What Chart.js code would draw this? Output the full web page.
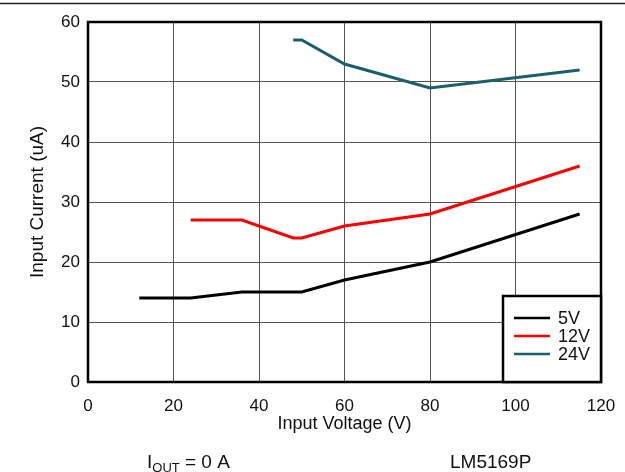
<!DOCTYPE html>
<html>
<head>
<meta charset="utf-8">
<script src="https://cdn.jsdelivr.net/npm/chart.js@4/dist/chart.umd.min.js"></script>
<style>
html,body{margin:0;padding:0;background:#fff;}
#wrap{position:relative;width:625px;height:472px;}
</style>
</head>
<body>
<div id="wrap"><canvas id="c" width="625" height="472"></canvas></div>
<script>
// Data
const seriesLabels = ["5V", "12V", "24V"];
const seriesColors = ["#000000", "#ff0000", "#1a5f6e"];
const vin5  = [12, 24, 36, 50, 60, 80, 115];
const iin5  = [14, 14, 15, 15, 17, 20, 28];
const vin12 = [24, 36, 48, 50, 60, 80, 115];
const iin12 = [27, 27, 24, 24, 26, 28, 36];
const vin24 = [48, 50, 60, 80, 115];
const iin24 = [57, 57, 53, 49, 52];
const xTicks = [0, 20, 40, 60, 80, 100, 120];
const yTicks = [0, 10, 20, 30, 40, 50, 60];
const xTitle = "Input Voltage (V)";
const yTitle = "Input Current (uA)";
const footLeftMain = "I";
const footLeftSub = "OUT";
const footLeftRest = " = 0 A";
const footRight = "LM5169P";

const FONT = "'Liberation Sans', Arial, sans-serif";
function pts(xs, ys){ return xs.map((x,i)=>({x:x, y:ys[i]})); }

const extras = {
  id: 'extras',
  afterDraw(chart){
    const ctx = chart.ctx;
    const a = chart.chartArea;
    ctx.save();
    // top rule
    ctx.strokeStyle = '#222';
    ctx.lineWidth = 1.5;
    ctx.beginPath(); ctx.moveTo(0, 3.5); ctx.lineTo(625, 3.5); ctx.stroke();
    // plot border
    ctx.strokeStyle = '#000';
    ctx.lineWidth = 2.5;
    ctx.strokeRect(a.left, a.top, a.right - a.left, a.bottom - a.top);
    // legend box
    const lw = 98, lh = 86;
    const lx = a.right - lw, ly = a.bottom - lh;
    ctx.fillStyle = '#fff';
    ctx.fillRect(lx, ly, lw, lh);
    ctx.lineWidth = 2.5;
    ctx.strokeRect(lx, ly, lw, lh);
    ctx.font = '18px ' + FONT;
    ctx.textBaseline = 'middle';
    chart.data.datasets.forEach((ds, i) => {
      const yy = ly + 22 + i * 18;
      ctx.strokeStyle = ds.borderColor;
      ctx.lineWidth = 2.5;
      ctx.beginPath(); ctx.moveTo(lx + 11, yy); ctx.lineTo(lx + 47, yy); ctx.stroke();
      ctx.fillStyle = '#111';
      ctx.textAlign = 'left';
      ctx.fillText(ds.label, lx + 55, yy + 1);
    });
    // footer
    ctx.fillStyle = '#111';
    ctx.textBaseline = 'alphabetic';
    ctx.textAlign = 'left';
    ctx.font = '19px ' + FONT;
    let x = 147; const y = 468;
    ctx.fillText(footLeftMain, x, y);
    x += ctx.measureText(footLeftMain).width;
    ctx.font = '13px ' + FONT;
    ctx.fillText(footLeftSub, x, y + 4);
    x += ctx.measureText(footLeftSub).width;
    ctx.font = '19px ' + FONT;
    ctx.fillText(footLeftRest, x, y);
    ctx.fillText(footRight, 450, y);
    ctx.restore();
  }
};

new Chart(document.getElementById('c'), {
  type: 'line',
  data: {
    datasets: [
      {label: seriesLabels[0], data: pts(vin5, iin5), borderColor: seriesColors[0]},
      {label: seriesLabels[1], data: pts(vin12, iin12), borderColor: seriesColors[1]},
      {label: seriesLabels[2], data: pts(vin24, iin24), borderColor: seriesColors[2]}
    ]
  },
  options: {
    responsive: false,
    animation: false,
    layout: {padding: {left: 26, right: 24, top: 22, bottom: 37}},
    elements: {
      line: {borderWidth: 3, tension: 0, fill: false},
      point: {radius: 0, hoverRadius: 0}
    },
    plugins: {legend: {display: false}, tooltip: {enabled: false}},
    scales: {
      x: {
        type: 'linear', min: 0, max: 120,
        afterBuildTicks(s){ s.ticks = xTicks.map(v => ({value: v})); },
        afterFit(s){ s.height = 53; s.paddingRight = 0; s.paddingLeft = 0; },
        ticks: {color: '#111', font: {size: 17, family: FONT}, padding: 14, maxRotation: 0},
        grid: {color: '#555', lineWidth: 1, drawTicks: false},
        border: {display: false},
        title: {display: true, text: xTitle, color: '#111', font: {size: 18, family: FONT}, padding: {top: -4, bottom: 0}}
      },
      y: {
        type: 'linear', min: 0, max: 60,
        afterBuildTicks(s){ s.ticks = yTicks.map(v => ({value: v})); },
        afterFit(s){ s.width = 62; },
        ticks: {color: '#111', font: {size: 17, family: FONT}, padding: 8},
        grid: {color: '#555', lineWidth: 1, drawTicks: false},
        border: {display: false},
        title: {display: true, text: yTitle, color: '#111', font: {size: 19, family: FONT}, padding: {top: 0, bottom: 4}}
      }
    }
  },
  plugins: [extras]
});
</script>
</body>
</html>
